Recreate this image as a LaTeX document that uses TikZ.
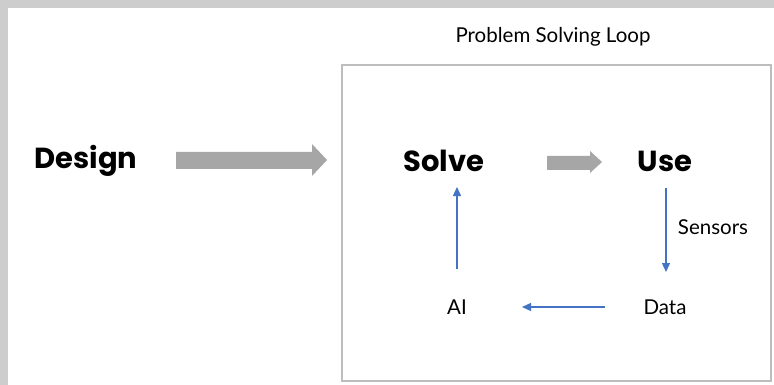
\documentclass[tikz,border=0pt]{standalone}
\usepackage{fontspec}
\setmainfont{Lato}
\newfontfamily\headfont{Poppins}
\usetikzlibrary{arrows.meta}
\definecolor{bandgrey}{HTML}{CDCDCD}
\definecolor{boxgrey}{HTML}{BDBDBD}
\definecolor{flowgrey}{HTML}{A6A6A6}
\definecolor{loopblue}{HTML}{4472C4}
\tikzset{
  heading/.style={font=\headfont\bfseries\fontsize{29}{34}\selectfont, inner sep=0pt},
  plain/.style={font=\fontsize{20.5}{24}\selectfont, inner sep=0pt},
  loopedge/.style={draw=loopblue, line width=1.3pt, -{Triangle[length=9pt,width=8pt]}},
}
\begin{document}
\begin{tikzpicture}[x=1pt,y=-1pt]
  \useasboundingbox (0,0) rectangle (774,385);
  \fill[white] (0,0) rectangle (774,385);
  % frame bands along the top and left edges
  \fill[bandgrey] (0,0) rectangle (774,8);
  \fill[bandgrey] (0,0) rectangle (8,385);
  % loop container
  \draw[boxgrey, line width=1.2pt] (342,65) rectangle (771,381);
  \node[plain] (title) at (553,37) {Problem Solving Loop};
  % stage labels
  \node[heading] (design) at (86,161) {Design};
  \node[heading] (solve) at (444,161) {Solve};
  \node[heading] (use) at (665,161) {Use};
  \node[plain] (ai) at (457,307) {AI};
  \node[plain] (data) at (665,307) {Data};
  \node[plain] (sensors) at (713,227) {Sensors};
  % block arrows
  \fill[flowgrey] (176,152) -- (312,152) -- (312,144) -- (327,160) -- (312,176)
     -- (312,169) -- (176,169) -- cycle;
  \fill[flowgrey] (547,156) -- (590,156) -- (590,151) -- (602,162) -- (590,173)
     -- (590,170) -- (547,170) -- cycle;
  % loop connectors
  \coordinate (aiTop) at (457,269);
  \coordinate (solveBot) at (457,187);
  \coordinate (useBot) at (666,188);
  \coordinate (dataTop) at (666,272);
  \coordinate (dataLeft) at (605,307);
  \coordinate (aiRight) at (522,307);
  \draw[loopedge] (aiTop) -- (solveBot);
  \draw[loopedge] (useBot) -- (dataTop);
  \draw[loopedge] (dataLeft) -- (aiRight);
\end{tikzpicture}
\end{document}
